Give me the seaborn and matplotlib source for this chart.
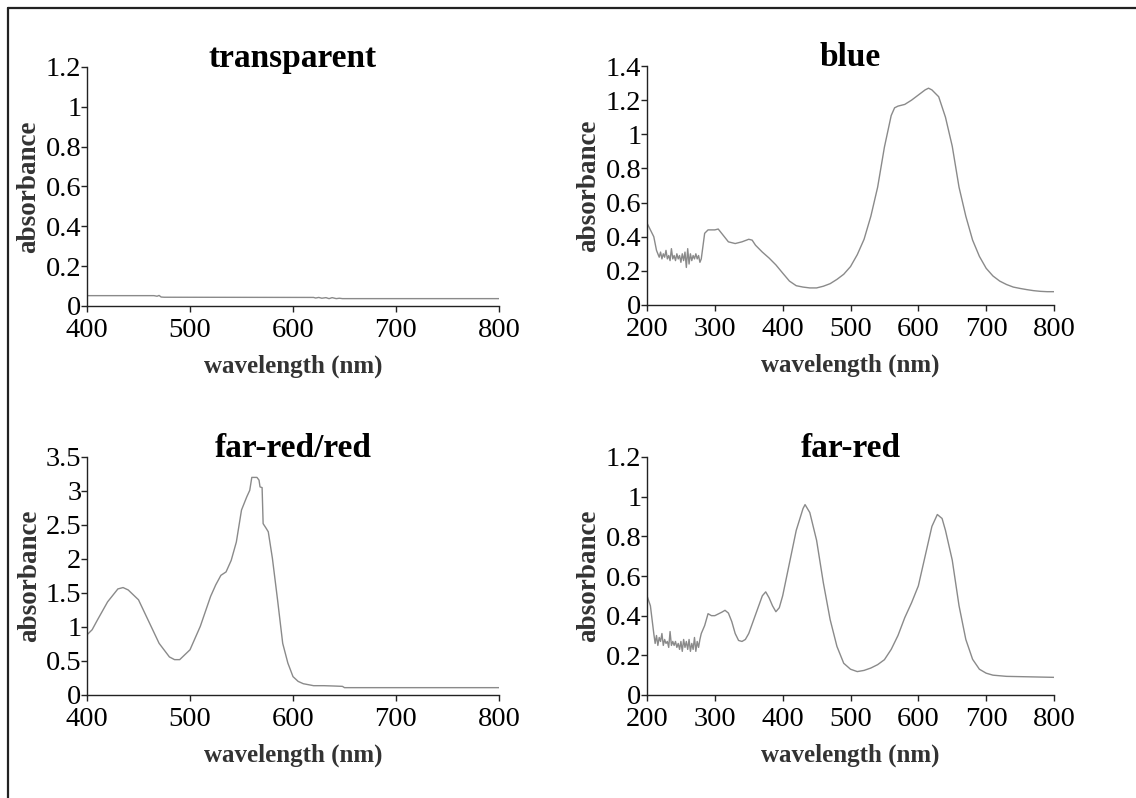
import matplotlib
matplotlib.use("Agg")
import matplotlib.pyplot as plt
from matplotlib.lines import Line2D
from matplotlib.ticker import FixedLocator, FuncFormatter
import seaborn as sns
import pandas as pd

# ---------------- data ----------------
transparent_wl = [400, 465, 468, 470, 472, 475, 620, 622, 625, 628, 632, 635, 638, 642, 645, 648, 800]
transparent_abs = [0.052, 0.052, 0.049, 0.053, 0.045, 0.044, 0.043, 0.040, 0.043, 0.039, 0.042,
                   0.037, 0.042, 0.037, 0.039, 0.037, 0.037]

blue_wl = [200, 205, 210, 214, 216, 218, 220, 222, 224, 226, 228, 230, 232, 234, 236, 238, 240,
           242, 244, 246, 248, 250, 252, 254, 256, 258, 260, 262, 264, 266, 268, 270, 272, 274,
           276, 278, 280, 285, 290, 300, 305, 310, 320, 330, 340, 350, 355, 360, 370, 380, 390,
           400, 410, 420, 430, 440, 450, 460, 470, 480, 490, 500, 510, 520, 530, 540, 550, 560,
           565, 570, 580, 590, 600, 610, 615, 620, 630, 640, 650, 660, 670, 680, 690, 700, 710,
           720, 730, 740, 750, 760, 770, 780, 790, 800]
blue_abs = [0.48, 0.44, 0.40, 0.32, 0.30, 0.28, 0.31, 0.27, 0.30, 0.28, 0.32, 0.27, 0.29, 0.26,
            0.33, 0.27, 0.29, 0.26, 0.30, 0.27, 0.29, 0.25, 0.30, 0.26, 0.31, 0.22, 0.33, 0.24,
            0.30, 0.26, 0.29, 0.27, 0.30, 0.27, 0.29, 0.25, 0.27, 0.42, 0.44, 0.44, 0.445, 0.42,
            0.37, 0.36, 0.37, 0.385, 0.38, 0.35, 0.31, 0.275, 0.235, 0.187, 0.14, 0.113, 0.105,
            0.10, 0.10, 0.11, 0.125, 0.15, 0.18, 0.225, 0.295, 0.385, 0.52, 0.69, 0.925, 1.11,
            1.155, 1.165, 1.175, 1.20, 1.23, 1.26, 1.27, 1.26, 1.22, 1.10, 0.93, 0.69, 0.52,
            0.38, 0.285, 0.215, 0.17, 0.14, 0.12, 0.105, 0.097, 0.09, 0.084, 0.08, 0.078, 0.078]

farred_red_wl = [400, 405, 410, 420, 430, 435, 440, 450, 460, 470, 480, 485, 490, 500, 510, 520,
                 525, 530, 535, 540, 545, 550, 555, 558, 560, 565, 567, 568, 570, 571, 574, 576,
                 580, 585, 590, 595, 600, 605, 610, 620, 630, 640, 648, 650, 800]
farred_red_abs = [0.885, 0.96, 1.10, 1.37, 1.56, 1.58, 1.545, 1.40, 1.08, 0.76, 0.56, 0.52, 0.52,
                  0.665, 1.01, 1.45, 1.62, 1.76, 1.81, 1.98, 2.25, 2.72, 2.91, 3.01, 3.20, 3.20,
                  3.16, 3.06, 3.05, 2.52, 2.45, 2.40, 2.01, 1.40, 0.76, 0.47, 0.27, 0.20, 0.166,
                  0.137, 0.137, 0.132, 0.127, 0.108, 0.108]

farred_wl = [200, 205, 210, 212, 214, 216, 218, 220, 222, 224, 226, 228, 230, 232, 234, 236, 238,
             240, 242, 244, 246, 248, 250, 252, 254, 256, 258, 260, 262, 264, 266, 268, 270, 272,
             274, 276, 278, 280, 285, 290, 295, 300, 310, 315, 320, 325, 330, 335, 340, 345, 350,
             360, 370, 375, 380, 385, 390, 395, 400, 410, 420, 430, 433, 440, 450, 460, 470, 480,
             490, 500, 510, 520, 530, 540, 550, 560, 570, 580, 590, 600, 610, 620, 628, 635, 640,
             650, 660, 670, 680, 690, 700, 710, 720, 730, 800]
farred_abs = [0.50, 0.45, 0.31, 0.26, 0.30, 0.25, 0.29, 0.27, 0.31, 0.25, 0.28, 0.26, 0.27, 0.24,
              0.32, 0.25, 0.27, 0.25, 0.27, 0.24, 0.26, 0.23, 0.27, 0.22, 0.28, 0.24, 0.27, 0.23,
              0.28, 0.22, 0.26, 0.23, 0.29, 0.22, 0.27, 0.24, 0.28, 0.31, 0.35, 0.41, 0.40, 0.40,
              0.417, 0.427, 0.413, 0.37, 0.31, 0.275, 0.27, 0.28, 0.31, 0.405, 0.50, 0.52, 0.49,
              0.45, 0.42, 0.44, 0.50, 0.665, 0.83, 0.94, 0.96, 0.92, 0.78, 0.565, 0.38, 0.245,
              0.16, 0.13, 0.118, 0.124, 0.136, 0.153, 0.178, 0.23, 0.30, 0.39, 0.465, 0.55, 0.70,
              0.85, 0.91, 0.89, 0.83, 0.68, 0.45, 0.28, 0.18, 0.13, 0.11, 0.10, 0.097, 0.094, 0.089]

titles = ["transparent", "blue", "far-red/red", "far-red"]
x_ranges = [(400, 800), (200, 800), (400, 800), (200, 800)]
y_ticks = [[0, 0.2, 0.4, 0.6, 0.8, 1, 1.2],
           [0, 0.2, 0.4, 0.6, 0.8, 1, 1.2, 1.4],
           [0, 0.5, 1, 1.5, 2, 2.5, 3, 3.5],
           [0, 0.2, 0.4, 0.6, 0.8, 1, 1.2]]
x_label = "wavelength (nm)"
y_label = "absorbance"

series = [(transparent_wl, transparent_abs), (blue_wl, blue_abs),
          (farred_red_wl, farred_red_abs), (farred_wl, farred_abs)]

# ---------------- style ----------------
sns.set_theme(style="white")
plt.rcParams["font.family"] = ["Liberation Serif", "DejaVu Serif"]

W, H = 1136, 798
fig = plt.figure(figsize=(W / 100, H / 100), dpi=100)
fig.patch.set_facecolor("white")

# axes boxes in pixels: (left, top, right, bottom)
boxes = [(87, 67, 499, 306), (647, 66, 1054, 305), (87, 457, 499, 695), (647, 457, 1054, 695)]

for i, ((l, t, r, b), (wl, ab)) in enumerate(zip(boxes, series)):
    ax = fig.add_axes([l / W, 1 - b / H, (r - l) / W, (b - t) / H])
    df = pd.DataFrame({"wl": wl, "abs": ab})
    sns.lineplot(data=df, x="wl", y="abs", ax=ax, estimator=None, sort=False,
                 color="#8a8a8a", linewidth=1.0)
    ax.set_xlim(*x_ranges[i])
    ax.set_ylim(0, y_ticks[i][-1])
    ax.xaxis.set_major_locator(FixedLocator(list(range(x_ranges[i][0], x_ranges[i][1] + 1, 100))))
    ax.yaxis.set_major_locator(FixedLocator(y_ticks[i]))
    ax.yaxis.set_major_formatter(FuncFormatter(lambda v, p: f"{v:g}"))
    for s in ["top", "right"]:
        ax.spines[s].set_visible(False)
    for s in ["left", "bottom"]:
        ax.spines[s].set_color("#222222")
        ax.spines[s].set_linewidth(1.0)
    ax.tick_params(axis="both", which="major", direction="out", length=4, width=1.0,
                   color="#222222", labelsize=20.5, labelcolor="black",
                   bottom=True, left=True)
    ax.tick_params(axis="x", pad=5)
    ax.tick_params(axis="y", pad=0)
    ax.set_xlabel(x_label, fontsize=18, fontweight="bold", color="#333333", labelpad=8)
    ax.set_ylabel(y_label, fontsize=19.5, fontweight="bold", color="#333333", labelpad=3)
    ax.set_title(titles[i], fontsize=24, fontweight="bold", color="black", pad=0)
    ax.grid(False)
    ax.set_facecolor("white")

# outer frame (top and left edges visible)
fig.add_artist(Line2D([8 / W, 1.0], [1 - 8 / H, 1 - 8 / H], color="#222222", linewidth=1.6,
                      transform=fig.transFigure))
fig.add_artist(Line2D([8 / W, 8 / W], [0.0, 1 - 8 / H], color="#222222", linewidth=1.6,
                      transform=fig.transFigure))

fig.savefig("out.png", dpi=100, facecolor="white")
